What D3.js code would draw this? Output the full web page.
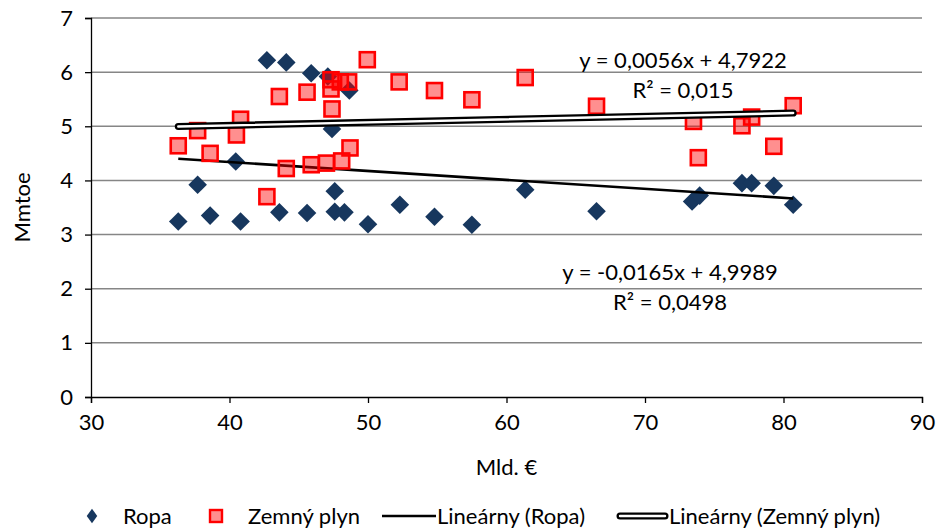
<!DOCTYPE html>
<html>
<head>
<meta charset="utf-8">
<script src="https://cdn.jsdelivr.net/npm/d3@7"></script>
<style>
  html, body { margin: 0; padding: 0; background: #fff; }
  svg text { font-family: Lato, "Open Sans", sans-serif; font-size: 22px; fill: #000; }
</style>
</head>
<body>
<svg id="chart" width="938" height="531"></svg>
<script>
// Ropa (oil) observations: [Mld. €, Mmtoe]
const ropa = [
  [36.3, 3.24], [37.7, 3.92], [38.6, 3.35], [40.45, 4.35], [40.8, 3.24],
  [42.7, 6.22], [43.6, 3.41], [44.1, 6.18], [45.6, 3.40], [45.9, 5.98],
  [47.1, 5.92], [47.4, 4.95], [47.6, 3.80], [47.6, 3.42], [48.3, 3.41],
  [48.65, 5.66], [50.0, 3.19], [52.3, 3.55], [54.8, 3.33], [57.5, 3.18],
  [61.35, 3.83], [66.5, 3.43], [73.4, 3.61], [73.95, 3.72], [77.0, 3.95],
  [77.7, 3.95], [79.3, 3.90], [80.7, 3.55]
];
// Zemný plyn (natural gas) observations: [Mld. €, Mmtoe]
const plyn = [
  [36.3, 4.64], [37.7, 4.92], [38.6, 4.50], [40.5, 4.84], [40.8, 5.13],
  [42.7, 3.70], [43.6, 5.55], [44.1, 4.22], [45.6, 5.63], [45.9, 4.29],
  [47.0, 4.32], [47.4, 5.32], [47.33, 5.69], [47.33, 5.86], [48.0, 5.82],
  [48.6, 5.82], [48.1, 4.36], [48.7, 4.60], [49.95, 6.23], [52.25, 5.82],
  [54.8, 5.66], [57.5, 5.49], [61.35, 5.90], [66.5, 5.37], [73.5, 5.09],
  [73.85, 4.42], [77.0, 5.01], [77.7, 5.17], [79.3, 4.63], [80.7, 5.38]
];
// Linear trend coefficients [slope, intercept] as printed on the chart
const trendRopa = [-0.0165, 4.9989];
const trendPlyn = [0.0056, 4.7922];
const eqRopa = ["y = -0,0165x + 4,9989", "R² = 0,0498"];
const eqPlyn = ["y = 0,0056x + 4,7922", "R² = 0,015"];
const xTicks = [30, 40, 50, 60, 70, 80, 90];
const yTicks = [0, 1, 2, 3, 4, 5, 6, 7];
const legendLabels = ["Ropa", "Zemný plyn", "Lineárny (Ropa)", "Lineárny (Zemný plyn)"];

const svg = d3.select("#chart");
const m = { left: 91, right: 16, top: 18, bottom: 134 };
const W = 938, H = 531;
const x = d3.scaleLinear().domain([30, 90]).range([m.left, W - m.right]);
const y = d3.scaleLinear().domain([0, 7]).range([H - m.bottom, m.top]);

// horizontal gridlines
svg.append("g").selectAll("line").data(yTicks.filter(d => d > 0)).join("line")
  .attr("x1", x(30)).attr("x2", x(90))
  .attr("y1", d => y(d)).attr("y2", d => y(d))
  .attr("stroke", "#868686").attr("stroke-width", 1.5);

// axes
const fmt = d => String(d);
const xAxis = svg.append("g").attr("transform", `translate(0,${y(0)})`)
  .call(d3.axisBottom(x).tickValues(xTicks).tickFormat(fmt).tickSizeOuter(0).tickSize(6).tickPadding(11));
const yAxis = svg.append("g").attr("transform", `translate(${x(30)},0)`)
  .call(d3.axisLeft(y).tickValues(yTicks).tickFormat(fmt).tickSizeOuter(0).tickSize(6).tickPadding(12));
[xAxis, yAxis].forEach(g => {
  g.attr("font-family", null).attr("font-size", null);
  g.select(".domain").attr("stroke", "#000").attr("stroke-width", 1.3);
  g.selectAll(".tick line").attr("stroke", "#000").attr("stroke-width", 1.3);
  g.selectAll(".tick text").attr("fill", "#000");
});

// axis titles
svg.append("text").attr("x", (x(30) + x(90)) / 2).attr("y", 475)
  .attr("text-anchor", "middle").text("Mld. €");
svg.append("text").attr("transform", `translate(30,${y(3.5)}) rotate(-90)`)
  .attr("text-anchor", "middle").text("Mmtoe");

// trend lines over the observed x range
const xr = d3.extent(ropa.concat(plyn), d => d[0]);
const line = d3.line().x(d => x(d[0])).y(d => y(d[1]));
const trendPts = c => xr.map(v => [v, c[0] * v + c[1]]);

// diamonds (Ropa)
const diamond = d3.symbol().type(d3.symbolDiamond2).size(220);
svg.append("g").selectAll("path").data(ropa).join("path")
  .attr("d", diamond)
  .attr("transform", d => `translate(${x(d[0])},${y(d[1])})`)
  .attr("fill", "#17375E");

svg.append("path").datum(trendPts(trendRopa)).attr("d", line)
  .attr("fill", "none").attr("stroke", "#000").attr("stroke-width", 2.6);

// squares (Zemný plyn)
const sq = 15;
svg.append("g").selectAll("rect").data(plyn).join("rect")
  .attr("x", d => x(d[0]) - sq / 2).attr("y", d => y(d[1]) - sq / 2)
  .attr("width", sq).attr("height", sq)
  .attr("fill", "rgba(255,0,0,0.44)").attr("stroke", "#FF0000").attr("stroke-width", 2.6);

// outlined trend line (Zemný plyn)
const tp = svg.append("g");
tp.append("path").datum(trendPts(trendPlyn)).attr("d", line)
  .attr("fill", "none").attr("stroke", "#000").attr("stroke-width", 7).attr("stroke-linecap", "round");
tp.append("path").datum(trendPts(trendPlyn)).attr("d", line)
  .attr("fill", "none").attr("stroke", "#fff").attr("stroke-width", 2.4).attr("stroke-linecap", "round");

// equation labels
function eq(lines, cx, cy) {
  lines.forEach((t, i) => svg.append("text").attr("x", cx).attr("y", cy + i * 30)
    .attr("text-anchor", "middle").text(t));
}
eq(eqPlyn, 683, 68);
eq(eqRopa, 670, 280);

// legend
const ly = 516;
const lg = svg.append("g");
lg.append("path").attr("d", d3.symbol().type(d3.symbolDiamond2).size(110)())
  .attr("transform", `translate(92,${ly}) scale(0.8,1.1)`).attr("fill", "#17375E");
lg.append("text").attr("x", 123).attr("y", ly + 8).text(legendLabels[0]);
lg.append("rect").attr("x", 210).attr("y", ly - 6).attr("width", 12).attr("height", 12)
  .attr("fill", "rgba(255,0,0,0.44)").attr("stroke", "#FF0000").attr("stroke-width", 2.4);
lg.append("text").attr("x", 248).attr("y", ly + 8).text(legendLabels[1]);
lg.append("line").attr("x1", 382).attr("x2", 436).attr("y1", ly).attr("y2", ly)
  .attr("stroke", "#000").attr("stroke-width", 2.6);
lg.append("text").attr("x", 437).attr("y", ly + 8).text(legendLabels[2]);
lg.append("line").attr("x1", 620).attr("x2", 665).attr("y1", ly).attr("y2", ly)
  .attr("stroke", "#000").attr("stroke-width", 7).attr("stroke-linecap", "round");
lg.append("line").attr("x1", 620).attr("x2", 665).attr("y1", ly).attr("y2", ly)
  .attr("stroke", "#fff").attr("stroke-width", 2.4).attr("stroke-linecap", "round");
lg.append("text").attr("x", 669).attr("y", ly + 8).text(legendLabels[3]);
</script>
</body>
</html>
